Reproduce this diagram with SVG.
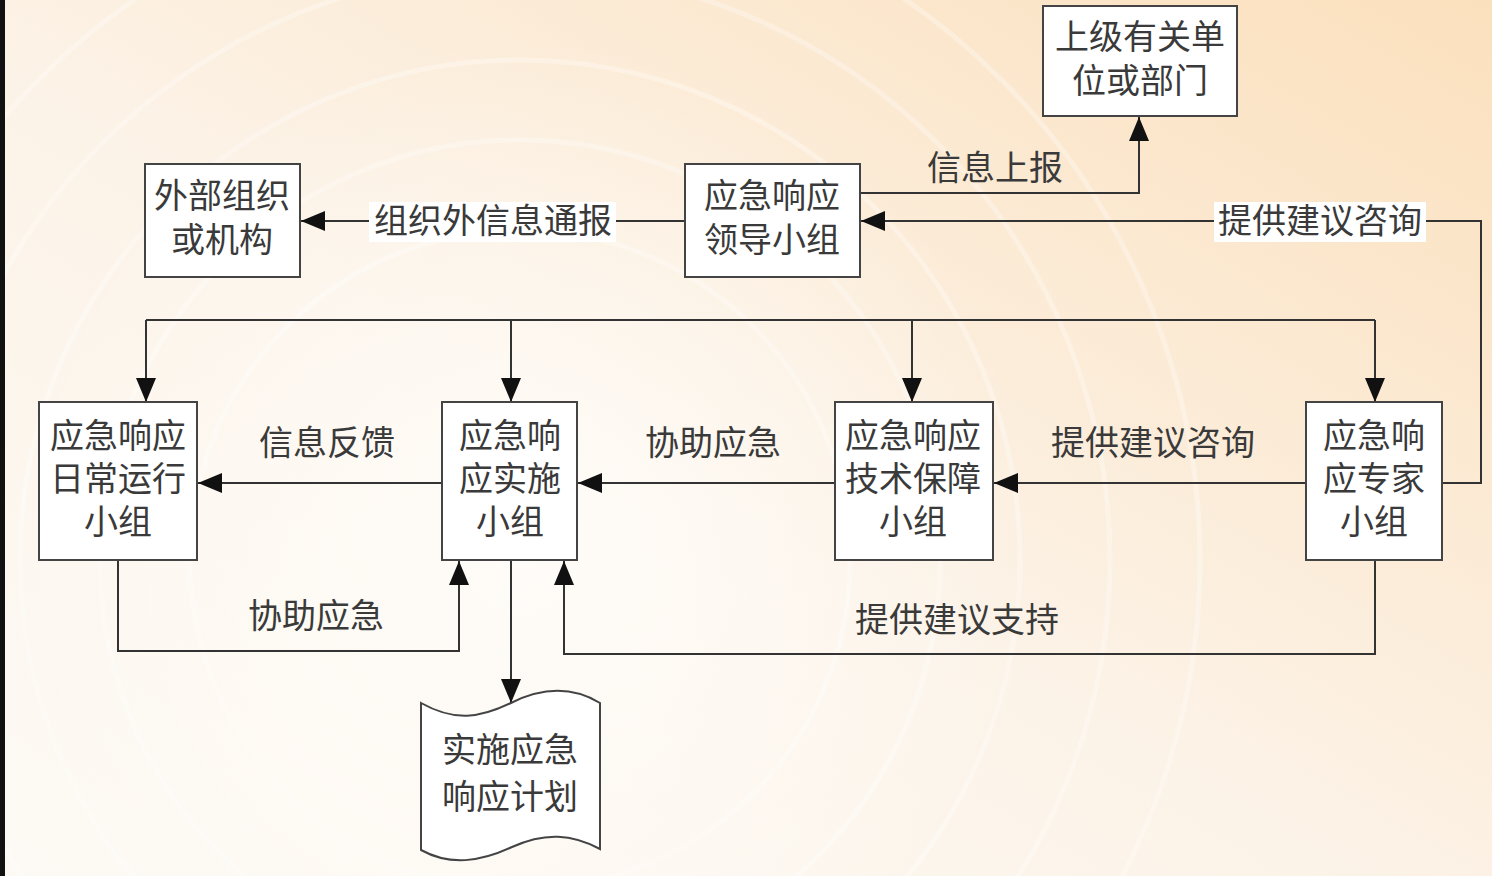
<svg xmlns="http://www.w3.org/2000/svg" width="1492" height="876" viewBox="0 0 1492 876">
<defs>
<linearGradient id="bg" x1="0" y1="1" x2="1" y2="0">
<stop offset="0" stop-color="#fdfaf5"/>
<stop offset="0.45" stop-color="#fcf3e8"/>
<stop offset="1" stop-color="#fbe0bd"/>
</linearGradient>
<radialGradient id="glow" cx="520" cy="560" r="520" gradientUnits="userSpaceOnUse">
<stop offset="0" stop-color="#fffdfa" stop-opacity="0.9"/>
<stop offset="1" stop-color="#fffdfa" stop-opacity="0"/>
</radialGradient>
<marker id="arr" viewBox="0 0 24 20" refX="24" refY="10" markerWidth="24" markerHeight="20" markerUnits="userSpaceOnUse" orient="auto">
<path d="M0,0 L24,10 L0,20 Z" fill="#111"/>
</marker>
<style>
.box{fill:#fff;stroke:#444;stroke-width:2}
.t{font-family:"Liberation Serif","Noto Sans CJK SC",serif;font-size:34px;fill:#3a3a3a;text-anchor:middle;dominant-baseline:central}
.c{fill:none;stroke:#333;stroke-width:2}
.ring{fill:none;stroke:#ffffff;stroke-opacity:0.3;stroke-width:5}
.lbg{fill:#fff}
</style>
</defs>
<rect width="1492" height="876" fill="url(#bg)"/>
<rect width="1492" height="876" fill="url(#glow)"/>
<g id="rings">
<circle class="ring" cx="520" cy="560" r="330"/>
<circle class="ring" cx="520" cy="560" r="420"/>
<circle class="ring" cx="520" cy="560" r="500"/>
<circle class="ring" cx="520" cy="560" r="590"/>
<circle class="ring" cx="520" cy="560" r="680"/>
</g>
<rect x="0" y="0" width="5" height="876" fill="#111"/>

<g id="connectors">
<path class="c" d="M860,193 H1139 V117" marker-end="url(#arr)"/>
<path class="c" d="M685,221 H301" marker-end="url(#arr)"/>
<path class="c" d="M1442,483 H1481 V221 H861" marker-end="url(#arr)"/>
<path class="c" d="M146,320 H1375"/>
<path class="c" d="M146,320 V402" marker-end="url(#arr)"/>
<path class="c" d="M511,320 V402" marker-end="url(#arr)"/>
<path class="c" d="M912,320 V402" marker-end="url(#arr)"/>
<path class="c" d="M1375,320 V402" marker-end="url(#arr)"/>
<path class="c" d="M442,483 H198" marker-end="url(#arr)"/>
<path class="c" d="M835,483 H578" marker-end="url(#arr)"/>
<path class="c" d="M1306,483 H994" marker-end="url(#arr)"/>
<path class="c" d="M118,560 V651 H459 V561" marker-end="url(#arr)"/>
<path class="c" d="M1375,560 V654 H564 V561" marker-end="url(#arr)"/>
<path class="c" d="M511,560 V703" marker-end="url(#arr)"/>
<text class="t" x="995" y="168">信息上报</text>
<rect class="lbg" x="369" y="202" width="247" height="40"/>
<text class="t" x="493" y="221">组织外信息通报</text>
<rect class="lbg" x="1214" y="202" width="212" height="40"/>
<text class="t" x="1320" y="221">提供建议咨询</text>
<text class="t" x="327" y="443">信息反馈</text>
<text class="t" x="713" y="443">协助应急</text>
<text class="t" x="1153" y="443">提供建议咨询</text>
<text class="t" x="316" y="616">协助应急</text>
<text class="t" x="957" y="620">提供建议支持</text>
</g>

<g id="n-superior">
<rect class="box" x="1043" y="6" width="194" height="110"/>
<text class="t" x="1140" y="37">上级有关单</text>
<text class="t" x="1140" y="81">位或部门</text>
</g>
<g id="n-external">
<rect class="box" x="145" y="164" width="155" height="113"/>
<text class="t" x="222" y="196">外部组织</text>
<text class="t" x="222" y="240">或机构</text>
</g>
<g id="n-leader">
<rect class="box" x="685" y="164" width="175" height="113"/>
<text class="t" x="772" y="196">应急响应</text>
<text class="t" x="772" y="240">领导小组</text>
</g>
<g id="n-daily">
<rect class="box" x="39" y="402" width="158" height="158"/>
<text class="t" x="118" y="436">应急响应</text>
<text class="t" x="118" y="479">日常运行</text>
<text class="t" x="118" y="522">小组</text>
</g>
<g id="n-implement">
<rect class="box" x="442" y="402" width="135" height="158"/>
<text class="t" x="510" y="436">应急响</text>
<text class="t" x="510" y="479">应实施</text>
<text class="t" x="510" y="522">小组</text>
</g>
<g id="n-tech">
<rect class="box" x="835" y="402" width="158" height="158"/>
<text class="t" x="913" y="436">应急响应</text>
<text class="t" x="913" y="479">技术保障</text>
<text class="t" x="913" y="522">小组</text>
</g>
<g id="n-expert">
<rect class="box" x="1306" y="402" width="136" height="158"/>
<text class="t" x="1374" y="436">应急响</text>
<text class="t" x="1374" y="479">应专家</text>
<text class="t" x="1374" y="522">小组</text>
</g>
<g id="n-plan">
<path class="box" d="M421,703 C455,722 480,718 511,703 C545,686 575,688 600,703 L600,849 C572,834 545,832 512,847 C480,862 450,866 421,850 Z"/>
<text class="t" x="510" y="750">实施应急</text>
<text class="t" x="510" y="797">响应计划</text>
</g>
</svg>
